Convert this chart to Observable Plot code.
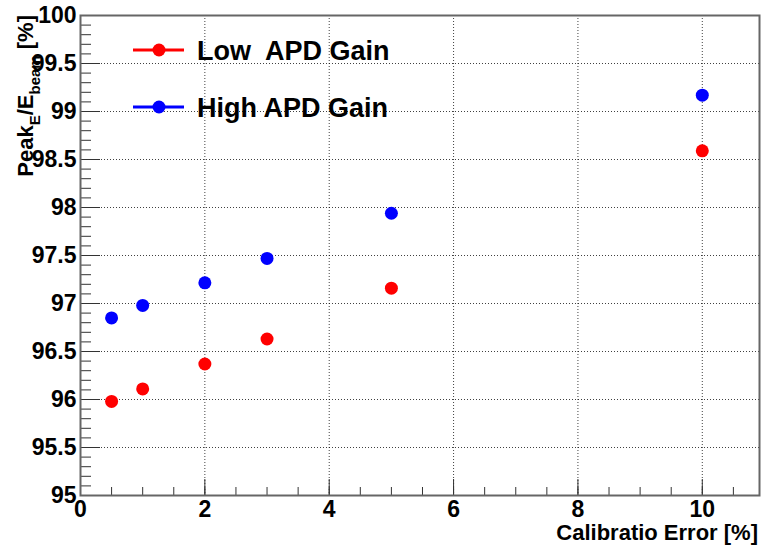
<!DOCTYPE html>
<html>
<head>
<meta charset="utf-8">
<script src="https://cdn.jsdelivr.net/npm/d3@7"></script>
<script src="https://cdn.jsdelivr.net/npm/@observablehq/plot@0.6"></script>
<style>
  html, body { margin: 0; padding: 0; background: #fff; }
  svg { display: block; }
</style>
</head>
<body>
<div id="chart"></div>
<script>
// Calibration error (%) and reconstructed peak position relative to beam energy (%)
const calibError = [0.5, 1, 2, 3, 5, 10];
const lowGain = [95.98, 96.11, 96.37, 96.63, 97.16, 98.59];
const highGain = [96.85, 96.98, 97.215, 97.47, 97.94, 99.17];

const seriesNames = ["Low  APD Gain", "High APD Gain"];
const seriesColors = ["#ff0000", "#0000ff"];

const xMajor = [0, 2, 4, 6, 8, 10];
const xMinor = d3.range(0, 11, 0.5);
const yMajor = [95, 95.5, 96, 96.5, 97, 97.5, 98, 98.5, 99, 99.5, 100];
const yMinor = d3.range(950, 1001, 1).map(d => d / 10);

const rows = [
  ...calibError.map((x, i) => ({x, y: lowGain[i], s: seriesNames[0]})),
  ...calibError.map((x, i) => ({x, y: highGain[i], s: seriesNames[1]}))
];

const font = "'Liberation Sans', Arial, Helvetica, sans-serif";
const grid = {stroke: "#000", strokeOpacity: 0.75, strokeDasharray: "1,2"};

const svg = Plot.plot({
  width: 764,
  height: 547,
  marginLeft: 80,
  marginRight: 5,
  marginTop: 15,
  marginBottom: 52,
  style: {fontFamily: font, fontSize: "23px", fontWeight: "bold", color: "#000", background: "#fff", overflow: "visible"},
  x: {domain: [0, 10.92]},
  y: {domain: [95, 100]},
  color: {domain: seriesNames, range: seriesColors},
  marks: [
    Plot.gridX(xMajor.filter(d => d > 0), grid),
    Plot.gridY(yMajor.filter(d => d > 95 && d < 100), grid),
    Plot.axisX({ticks: xMinor, tickSize: -8, tickFormat: () => "", stroke: "#333", label: null}),
    Plot.axisX({ticks: xMajor, tickSize: -16, tickFormat: () => "", stroke: "#333", label: null}),
    Plot.axisX({ticks: xMajor, tickSize: 0, tickPadding: 5, tickFormat: d => String(d), label: null}),
    Plot.axisY({ticks: yMinor, tickSize: -11, tickFormat: () => "", stroke: "#333", label: null}),
    Plot.axisY({ticks: yMajor, tickSize: -20, tickFormat: () => "", stroke: "#333", label: null}),
    Plot.axisY({ticks: yMajor, tickSize: 0, tickPadding: 4, tickFormat: d => String(d), label: null}),
    Plot.frame({stroke: "#666", strokeWidth: 2}),
    Plot.dot(rows, {x: "x", y: "y", fill: "s", r: 6.5})
  ]
});

document.getElementById("chart").appendChild(svg);

const root = d3.select(svg);

// X axis title, right-aligned under the frame
root.append("text")
  .attr("x", 758).attr("y", 540)
  .attr("text-anchor", "end")
  .attr("font-family", font)
  .attr("font-weight", "bold")
  .attr("font-size", 22)
  .attr("fill", "#000")
  .text("Calibratio Error [%]");

// Y axis title with subscripts
const yt = root.append("text")
  .attr("transform", "translate(33,15) rotate(-90)")
  .attr("text-anchor", "end")
  .attr("font-family", font)
  .attr("font-weight", "bold")
  .attr("font-size", 22)
  .attr("fill", "#000");
yt.append("tspan").text("Peak");
yt.append("tspan").attr("font-size", 15).attr("dy", 7).text("E");
yt.append("tspan").attr("dy", -7).text("/E");
yt.append("tspan").attr("font-size", 15).attr("dy", 7).text("beam");
yt.append("tspan").attr("dy", -7).text(" [%]");

// Legend
const legend = root.append("g")
  .attr("font-family", font).attr("font-weight", "bold").attr("font-size", 27)
  .attr("text-anchor", "start");
seriesNames.forEach((name, i) => {
  const y = 50 + i * 57;
  const g = legend.append("g").attr("transform", `translate(0,${y})`);
  g.append("line").attr("x1", 133).attr("x2", 184).attr("y1", 0).attr("y2", 0)
    .attr("stroke", seriesColors[i]).attr("stroke-width", 3);
  g.append("circle").attr("cx", 159).attr("cy", 0).attr("r", 6.5).attr("fill", seriesColors[i]);
  g.append("text").attr("x", 197).attr("y", 0).attr("dy", "0.36em")
    .attr("fill", "#000").style("white-space", "pre").text(name);
});
</script>
</body>
</html>
